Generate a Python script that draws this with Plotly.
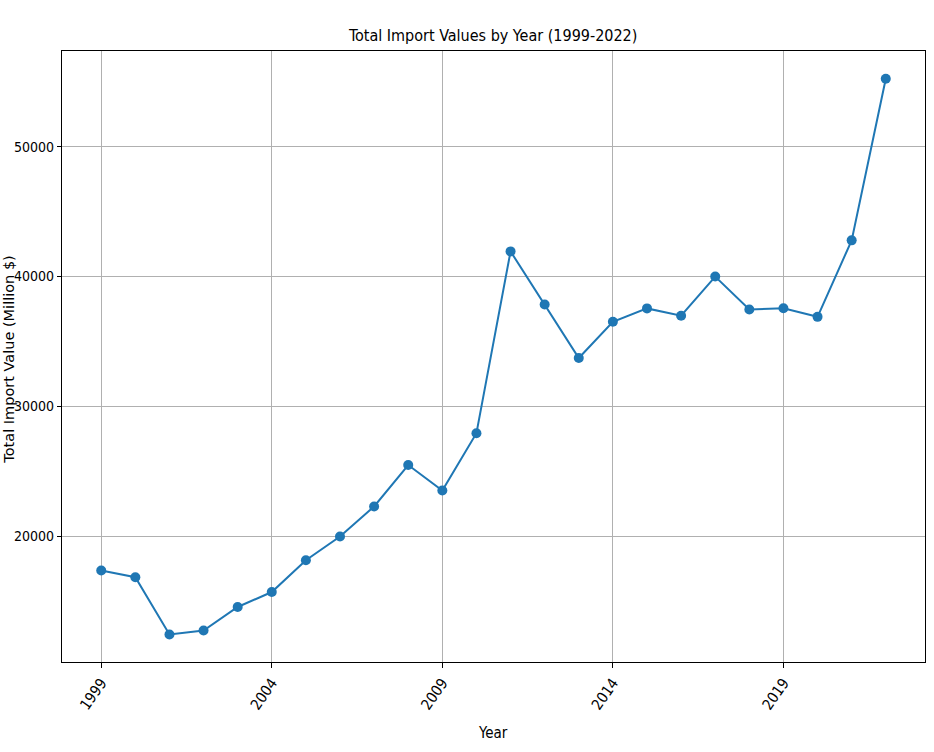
import plotly.graph_objects as go

years = list(range(1999, 2023))
import_values = [17370, 16850, 12440, 12750, 14560, 15710, 18160, 19980,
                 22300, 25490, 23530, 27940, 41940, 37850, 33730, 36520,
                 37550, 36990, 40000, 37470, 37560, 36900, 42790, 55230]
x_ticks = [1999, 2004, 2009, 2014, 2019]
y_ticks = [20000, 30000, 40000, 50000]

narrow = "DejaVu Sans Condensed, DejaVu Sans"

fig = go.Figure()
fig.add_trace(go.Scatter(x=years, y=import_values, mode='lines+markers',
                         line=dict(color='#1f77b4', width=2),
                         marker=dict(color='#1f77b4', size=10)))

fig.update_layout(
    width=934, height=752,
    plot_bgcolor='white', paper_bgcolor='white',
    margin=dict(l=62, r=9, t=51, b=90),
    showlegend=False,
    title=dict(text='Total Import Values by Year (1999-2022)', x=0.528, xanchor='center',
               y=0.953, yanchor='middle', font=dict(family=narrow, size=16, color='black')),
)
fig.update_xaxes(range=[1997.85, 2023.15], tickvals=x_ticks, ticktext=[str(t) for t in x_ticks],
                 tickangle=-55, ticks='outside', ticklen=5, tickcolor='black', automargin=False,
                 showgrid=True, gridcolor='#b0b0b0', gridwidth=1, zeroline=False,
                 showline=True, linecolor='black', linewidth=1.2, mirror=True,
                 tickfont=dict(family=narrow, size=15, color='black'))
fig.update_yaxes(range=[10322, 57370], tickvals=y_ticks, ticktext=[str(t) for t in y_ticks],
                 ticks='outside', ticklen=4, tickcolor='black', automargin=False,
                 showgrid=True, gridcolor='#b0b0b0', gridwidth=1, zeroline=False,
                 showline=True, linecolor='black', linewidth=1.2, mirror=True,
                 tickfont=dict(family=narrow, size=14, color='black'))

# axis titles as annotations so they sit where the reference puts them
fig.add_annotation(text='Year', xref='paper', yref='paper', x=0.4994, y=-0.116,
                   xanchor='center', yanchor='middle', showarrow=False,
                   font=dict(family=narrow, size=15, color='black'))
fig.add_annotation(text='Total Import Value (Million $)', xref='paper', yref='paper',
                   x=-0.0608, y=0.494, xanchor='center', yanchor='middle', textangle=-90,
                   showarrow=False, borderpad=0,
                   font=dict(family='DejaVu Sans', size=14.5, color='black'))

# drop the default 8px body margin so the figure sits at the page corner
fig.write_html("out.html", config={'displayModeBar': False},
               post_script="document.body.style.margin = '0';")
